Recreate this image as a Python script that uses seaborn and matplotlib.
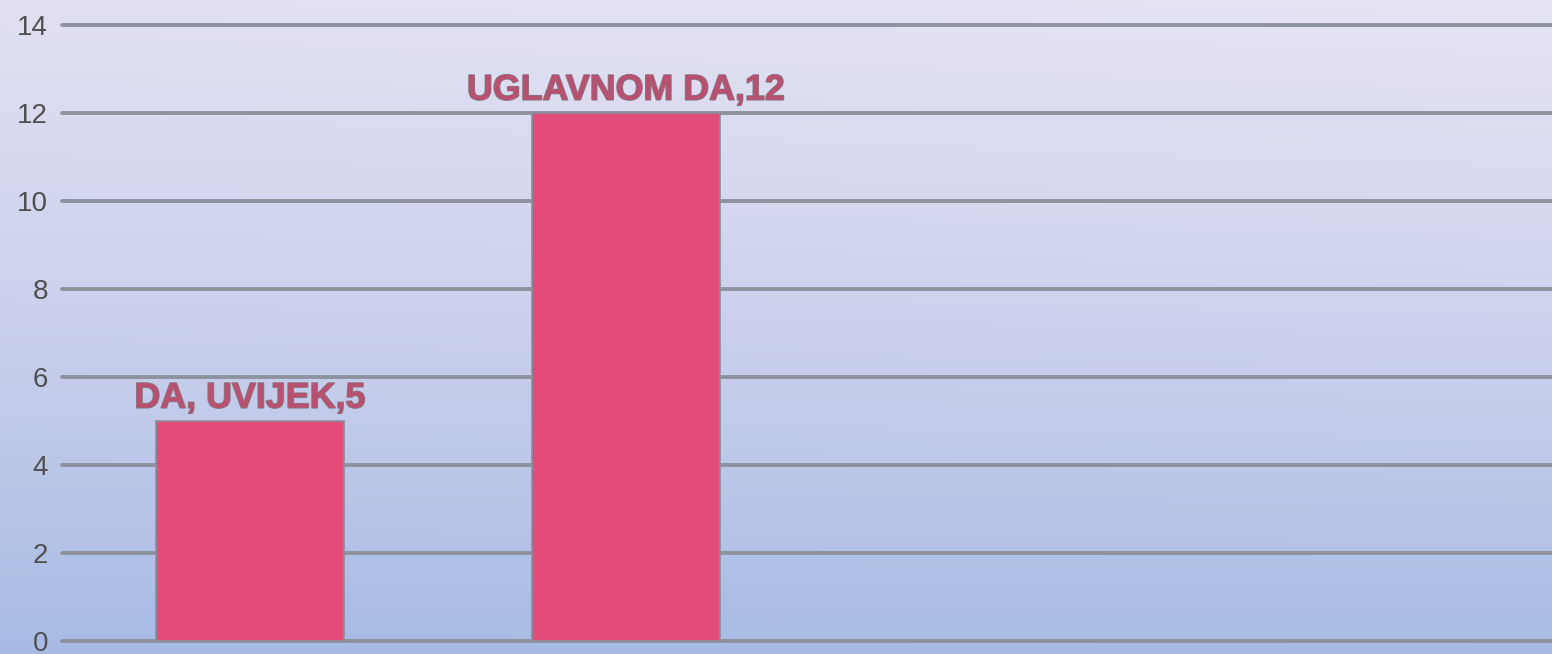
import numpy as np
import pandas as pd
import matplotlib
matplotlib.use("Agg")
import matplotlib.pyplot as plt
import matplotlib.patheffects as pe
from matplotlib.colors import LinearSegmentedColormap
import seaborn as sns

# data
categories = ["DA, UVIJEK", "UGLAVNOM DA", "UGLAVNOM NE", "NE"]
values = [5, 12, 0, 0]
y_ticks = [0, 2, 4, 6, 8, 10, 12, 14]

df = pd.DataFrame({"odgovor": categories, "broj": values})

sns.set_style("white")
plt.rcParams["font.family"] = ["Liberation Sans", "DejaVu Sans"]

fig = plt.figure(figsize=(15.52, 6.54), dpi=100)

# gradient background over the whole figure
bg = fig.add_axes([0, 0, 1, 1], zorder=0)
grad_cmap = LinearSegmentedColormap.from_list(
    "bg", ["#a7bbe4", "#c2cbea", "#d6d8f0", "#e6e4f3"])
yy, xx = np.mgrid[0:1:200j, 0:1:200j]
grad = yy * 0.9 + xx * 0.1 * yy
bg.imshow(grad, cmap=grad_cmap, origin="lower", aspect="auto",
          extent=[0, 1, 0, 1])
bg.axis("off")

ax = fig.add_axes([62 / 1552, 13 / 654, 1490 / 1552, 616 / 654], zorder=1)
ax.patch.set_alpha(0)

sns.barplot(data=df, x="odgovor", y="broj", ax=ax, color="#e24c7a",
            width=0.5, edgecolor="#8a8e9c", linewidth=1.2, saturation=1,
            zorder=3)

ax.set_ylim(0, 14)
ax.set_xlim(-0.5, 3.463)
ax.set_yticks(y_ticks)
ax.yaxis.grid(True, color="#8e929e", linewidth=2.8)
for gl in ax.get_ygridlines():
    gl.set_clip_on(False)
ax.set_axisbelow(True)
for s in ax.spines.values():
    s.set_visible(False)
ax.set_xticks([])
ax.set_xlabel("")
ax.set_ylabel("")
ax.tick_params(axis="y", length=0, pad=10, labelsize=20, labelcolor="#505050")

for i, (c, v) in enumerate(zip(categories, values)):
    if v > 0:
        ax.text(i, v + 0.12, f"{c},{v}", ha="center", va="bottom",
                fontsize=25.8, fontweight="bold", color="#b8506f",
                path_effects=[pe.withStroke(linewidth=1.2, foreground="#8a7a84")],
                zorder=5)

fig.savefig("out.png", dpi=100)
